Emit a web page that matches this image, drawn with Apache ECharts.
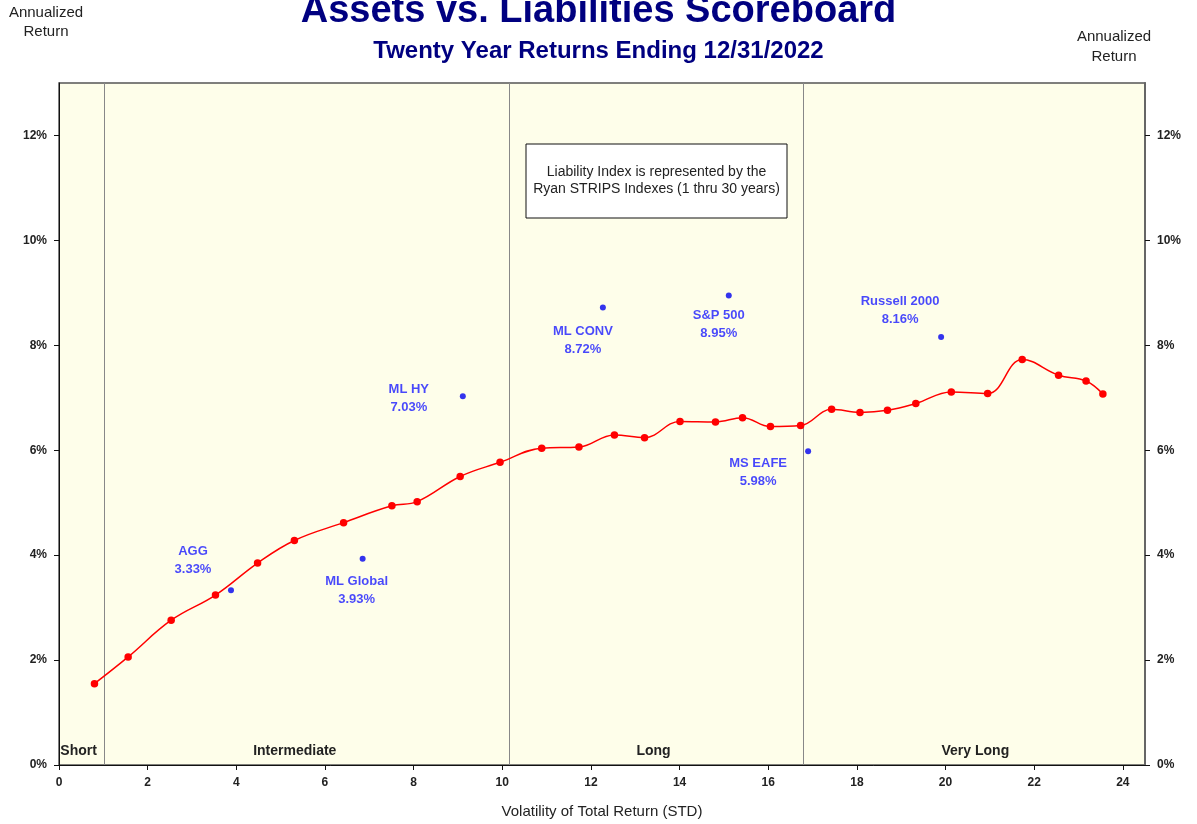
<!DOCTYPE html>
<html>
<head>
<meta charset="utf-8">
<script src="https://cdn.jsdelivr.net/npm/echarts@6/dist/echarts.min.js"></script>
<style>
html,body{margin:0;padding:0;background:#fff;}
#chart{width:1197px;height:824px;}
</style>
</head>
<body>
<div id="chart"></div>
<script>
// ---- Data ----
const liabilityX = [0.80,1.56,2.53,3.53,4.48,5.31,6.42,7.51,8.08,9.05,9.95,10.89,11.73,12.53,13.21,14.01,14.81,15.42,16.05,16.73,17.43,18.07,18.69,19.33,20.13,20.95,21.73,22.55,23.17,23.55];
const liabilityY = [1.55,2.06,2.76,3.24,3.85,4.28,4.62,4.94,5.02,5.50,5.77,6.04,6.06,6.29,6.24,6.55,6.54,6.62,6.45,6.47,6.78,6.72,6.76,6.89,7.11,7.08,7.73,7.43,7.32,7.07];

const assetNames = ['AGG','ML Global','ML HY','ML CONV','S&P 500','MS EAFE','Russell 2000'];
const assetVol = [3.88,6.85,9.11,12.27,15.11,16.90,19.90];
const assetReturn = [3.33,3.93,7.03,8.72,8.95,5.98,8.16];

const regionNames = ['Short','Intermediate','Long','Very Long'];
const regionBounds = [0,1.02,10.16,16.80,24.5];

const xTicks = [0,2,4,6,8,10,12,14,16,18,20,22,24];
const yTicks = [0,2,4,6,8,10,12];

// ---- Layout / style (not data) ----
const labelOffsets = {
  'AGG':[-38,-30], 'ML Global':[-6,32], 'ML HY':[-54,2], 'ML CONV':[-20,33],
  'S&P 500':[-10,29], 'MS EAFE':[-50,21], 'Russell 2000':[-41,-26]
};
const regionLabelOffsets = {'Short':[-3,0],'Intermediate':[-12,0],'Long':[-3,0],'Very Long':[1,0]};

const liabilityData = liabilityX.map((x,i)=>[x, liabilityY[i]]);
const assetData = assetNames.map((n,i)=>({
  name:n, value:[assetVol[i], assetReturn[i]],
  label:{offset: labelOffsets[n]}
}));

const regionAreas = regionNames.map((n,i)=>[
  {name:n, xAxis:regionBounds[i], label:{offset: regionLabelOffsets[n]}},
  {xAxis:regionBounds[i+1]}
]);
const dividerLines = regionBounds.slice(1,-1).map(v=>({xAxis:v}));

const chart = echarts.init(document.getElementById('chart'));
const yLabelStyle = {fontFamily:'Liberation Sans, Arial, sans-serif', fontWeight:'bold', fontSize:12, color:'#222', margin:12,
  formatter: v => v + '%', customValues: yTicks};

chart.setOption({
  backgroundColor:'#ffffff',
  animation:false,
  grid:{left:59, right:52, top:83, bottom:53, show:true, backgroundColor:'#fefeea', borderColor:'#555', borderWidth:1.5},
  xAxis:{
    type:'value', min:0, max:regionBounds[regionBounds.length-1],
    axisLine:{show:true, onZero:false, lineStyle:{color:'#111', width:1}},
    axisTick:{show:true, length:5, lineStyle:{color:'#111'}, customValues: xTicks},
    axisLabel:{fontFamily:'Liberation Sans, Arial, sans-serif', fontWeight:'bold', fontSize:12, color:'#222', margin:12, customValues: xTicks},
    splitLine:{show:false},
    name:'Volatility of Total Return (STD)', nameLocation:'middle', nameGap:39,
    nameTextStyle:{fontFamily:'Liberation Sans, Arial, sans-serif', fontSize:15, color:'#222'}
  },
  yAxis:[
    {type:'value', min:0, max:13, position:'left',
     axisLine:{show:true, lineStyle:{color:'#111', width:1}},
     axisTick:{show:true, length:5, lineStyle:{color:'#111'}, customValues: yTicks},
     axisLabel: yLabelStyle, splitLine:{show:false}},
    {type:'value', min:0, max:13, position:'right',
     axisLine:{show:true, lineStyle:{color:'#666', width:2}},
     axisTick:{show:true, length:5, lineStyle:{color:'#111'}, customValues: yTicks},
     axisLabel: yLabelStyle, splitLine:{show:false}}
  ],
  series:[
    {
      type:'line', name:'Liability', data:liabilityData, yAxisIndex:0,
      smooth:0.4, symbol:'circle', symbolSize:7.5,
      lineStyle:{color:'#ff0000', width:1.5},
      itemStyle:{color:'#ff0000'},
      z:5,
      markLine:{silent:true, symbol:['none','none'], label:{show:false},
        lineStyle:{color:'#888', width:1, type:'solid'}, data:dividerLines},
      markArea:{silent:true, itemStyle:{color:'rgba(0,0,0,0)'},
        label:{show:true, position:'insideBottom', distance:7,
          fontFamily:'Liberation Sans, Arial, sans-serif', fontWeight:'bold', fontSize:14, color:'#222'},
        data:regionAreas}
    },
    {
      type:'scatter', name:'Assets', data:assetData, yAxisIndex:0,
      symbol:'circle', symbolSize:6, itemStyle:{color:'#0000ee'}, z:6,
      label:{show:true, position:'inside', align:'center', verticalAlign:'middle',
        fontFamily:'Liberation Sans, Arial, sans-serif', fontWeight:'bold', fontSize:13, lineHeight:18, color:'#1a1aff',
        formatter: p => p.name + '\n' + p.value[1].toFixed(2) + '%'}
    }
  ],
  graphic:[
    {type:'text', left:'center', top:-7, style:{text:'Assets vs. Liabilities Scoreboard', fill:'#000080',
      font:'bold 38px "Liberation Sans", Arial, sans-serif'}},
    {type:'text', x:598.5, y:51, style:{text:'Twenty Year Returns Ending 12/31/2022', fill:'#000080',
      font:'bold 24px "Liberation Sans", Arial, sans-serif', align:'center', verticalAlign:'middle'}},
    {type:'text', x:46, y:22, style:{text:'Annualized\nReturn', fill:'#222', lineHeight:19,
      font:'15px "Liberation Sans", Arial, sans-serif', align:'center', verticalAlign:'middle'}},
    {type:'text', x:1114, y:47, style:{text:'Annualized\nReturn', fill:'#222', lineHeight:20,
      font:'15px "Liberation Sans", Arial, sans-serif', align:'center', verticalAlign:'middle'}},
    {type:'rect', shape:{x:526, y:144, width:261, height:74}, style:{fill:'#ffffff', stroke:'#111', lineWidth:1}, z:10},
    {type:'text', x:656.5, y:181, z:11, style:{text:'Liability Index is represented by the\nRyan STRIPS Indexes (1 thru 30 years)',
      fill:'#222', lineHeight:17, font:'14px "Liberation Sans", Arial, sans-serif', align:'center', verticalAlign:'middle'}}
  ]
});
</script>
</body>
</html>
